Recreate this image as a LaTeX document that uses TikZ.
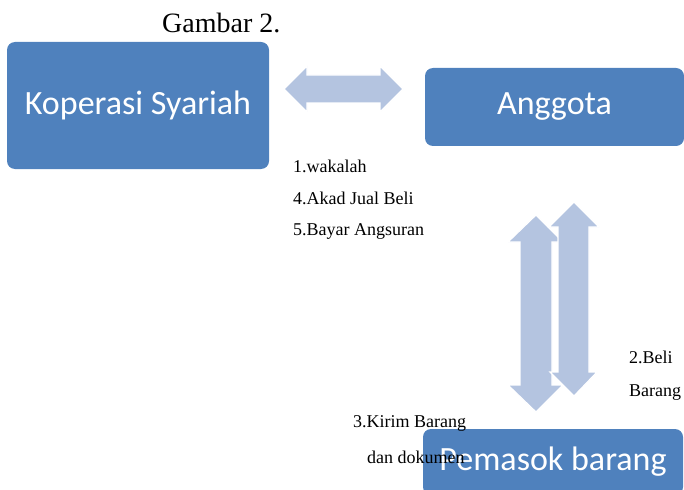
\documentclass[tikz,border=0pt]{standalone}
\usepackage{fontspec}
\setmainfont{Liberation Serif}
\newfontfamily\kotakfont{Carlito}
\usepackage{tikz}
\definecolor{biru}{RGB}{79,129,189}
\definecolor{panah}{RGB}{180,196,224}
\tikzset{kotak/.style = {shape=rectangle, fill=biru, text=white, rounded corners=8pt,
    font=\kotakfont\fontsize{34}{34}\selectfont, inner sep=0pt}}
\tikzset{label/.style = {anchor=base west, font=\fontsize{18}{18}\selectfont, inner sep=0pt}}
\tikzset{blok/.style = {fill=panah, draw=white, line width=1.2pt}}

\begin{document}
\begin{tikzpicture}[x=1pt,y=-1pt]
                    \useasboundingbox (0,0) rectangle (684,489);
                    \node[anchor=base west, font=\fontsize{28}{28}\selectfont, inner sep=0pt] (judul) at (162,33) {Gambar 2.};

                    \node[kotak, minimum width=262pt, minimum height=127pt] (koperasi) at (138,105.5) {Koperasi Syariah};
                    \node[kotak, minimum width=259pt, minimum height=78pt] (anggota) at (554.5,107) {Anggota};
                    \node[kotak, minimum width=260pt, minimum height=66pt] (pemasok) at (553,462) {Pemasok barang};

                    % panah dua arah
                    \draw[blok] (284,89) -- (307,66) -- (307,75) -- (380,75) -- (380,66) -- (403,89)
                        -- (380,112) -- (380,103) -- (307,103) -- (307,112) -- cycle;
                    \draw[blok] (536,215) -- (563,242) -- (552,242) -- (552,385) -- (563,385) -- (536,412)
                        -- (508,385) -- (520,385) -- (520,242) -- (508,242) -- cycle;
                    \draw[blok] (574,202) -- (599,227) -- (589,227) -- (589,372) -- (597,372) -- (574,396)
                        -- (550,372) -- (558,372) -- (558,227) -- (549,227) -- cycle;

                    \node[label] (wakalah) at (293,172) {1.wakalah};
                    \node[label] (akad) at (293,204) {4.Akad Jual Beli};
                    \node[label] (bayar) at (293,235) {5.Bayar Angsuran};
                    \node[label] (beli) at (629,363) {2.Beli};
                    \node[label] (barang) at (629,396) {Barang};
                    \node[label] (kirim) at (353,427) {3.Kirim Barang};
                    \node[label] (dokumen) at (367,463) {dan dokumen};
                \end{tikzpicture}
\end{document}
